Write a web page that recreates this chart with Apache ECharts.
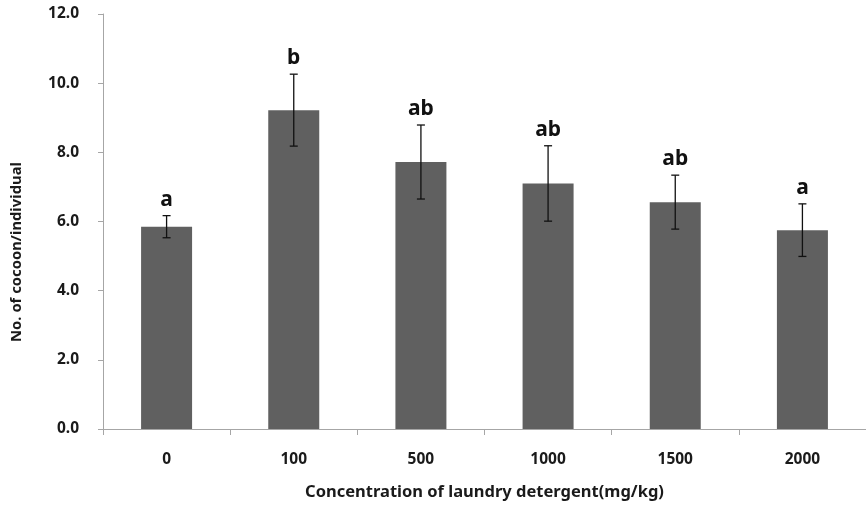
<!DOCTYPE html>
<html>
<head>
<meta charset="utf-8">
<script src="https://cdn.jsdelivr.net/npm/echarts@6/dist/echarts.min.js"></script>
<style>html,body{margin:0;padding:0;background:#fff;}#c{width:866px;height:510px;}</style>
</head>
<body>
<div id="c"></div>
<script>
const categories = ['0', '100', '500', '1000', '1500', '2000'];
const means = [5.85, 9.22, 7.72, 7.10, 6.56, 5.75];
const errors = [0.32, 1.04, 1.07, 1.09, 0.78, 0.76];
const letters = ['a', 'b', 'ab', 'ab', 'ab', 'a'];
const yTicks = [0, 2, 4, 6, 8, 10, 12];

const FONT = '"Noto Sans", sans-serif';
const chart = echarts.init(document.getElementById('c'), null, {renderer: 'canvas'});

const errData = categories.map((c, i) => [i, means[i], errors[i]]);

chart.setOption({
  animation: false,
  backgroundColor: '#ffffff',
  grid: {left: 103, top: 14, width: 770, height: 415},
  xAxis: {
    type: 'category',
    data: categories,
    axisLine: {lineStyle: {color: '#a6a6a6', width: 1}},
    axisTick: {show: true, length: 6, lineStyle: {color: '#a6a6a6'}},
    axisLabel: {margin: 23, fontFamily: FONT, fontWeight: 'bold', fontSize: 15.5, color: '#1a1a1a'},
    name: 'Concentration of laundry detergent(mg/kg)',
    nameLocation: 'middle',
    nameGap: 55,
    nameTextStyle: {fontFamily: FONT, fontWeight: 'bold', fontSize: 16.5, color: '#1a1a1a', verticalAlign: 'top'}
  },
  yAxis: {
    type: 'value',
    min: yTicks[0],
    max: yTicks[yTicks.length - 1],
    interval: yTicks[1] - yTicks[0],
    splitLine: {show: false},
    axisLine: {show: true, lineStyle: {color: '#a6a6a6', width: 1}},
    axisTick: {show: true, length: 5, lineStyle: {color: '#a6a6a6'}},
    axisLabel: {margin: 24, fontFamily: FONT, fontWeight: 'bold', fontSize: 15.5, color: '#1a1a1a',
      formatter: v => v.toFixed(1)}
  },
  graphic: [{
    type: 'text',
    x: 17, y: 252,
    rotation: Math.PI / 2,
    style: {
      text: 'No. of cocoon/individual',
      fontFamily: FONT, fontWeight: 'bold', fontSize: 14.8, fill: '#1a1a1a',
      textAlign: 'center', textVerticalAlign: 'middle'
    }
  }],
  series: [
    {
      type: 'bar',
      data: means,
      barWidth: 51,
      itemStyle: {color: '#606060'}
    },
    {
      type: 'custom',
      data: errData,
      z: 10,
      renderItem: function (params, api) {
        const x = api.value(0), m = api.value(1), e = api.value(2);
        const top = api.coord([x, m + e]);
        const bot = api.coord([x, m - e]);
        const cap = 4;
        const style = {stroke: '#111', lineWidth: 1.3};
        return {
          type: 'group',
          children: [
            {type: 'line', shape: {x1: top[0], y1: top[1], x2: bot[0], y2: bot[1]}, style: style},
            {type: 'line', shape: {x1: top[0] - cap, y1: top[1], x2: top[0] + cap, y2: top[1]}, style: style},
            {type: 'line', shape: {x1: bot[0] - cap, y1: bot[1], x2: bot[0] + cap, y2: bot[1]}, style: style},
            {type: 'text', x: top[0], y: top[1] - 16,
              style: {text: letters[params.dataIndex], fontFamily: FONT, fontWeight: 'bold', fontSize: 21,
                fill: '#111', textAlign: 'center', textVerticalAlign: 'middle'}}
          ]
        };
      }
    }
  ]
});
</script>
</body>
</html>
